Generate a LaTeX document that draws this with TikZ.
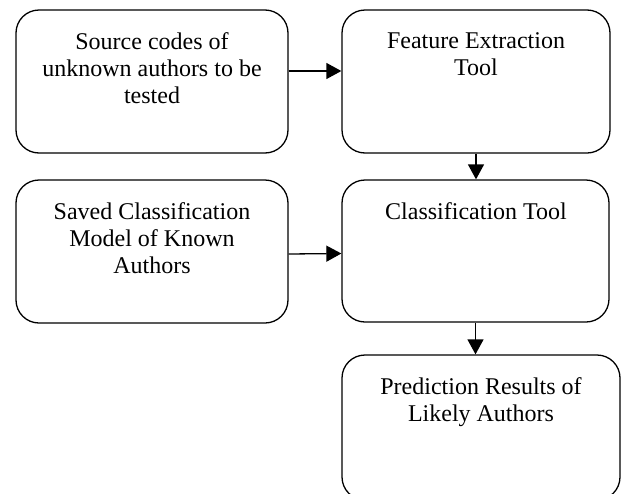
\documentclass[tikz,border=0pt]{standalone}
\usepackage{fontspec}
\setmainfont{Liberation Serif}
\usetikzlibrary{arrows.meta}
\begin{document}
\begin{tikzpicture}[x=1pt,y=-1pt,
  box/.style={draw=black, line width=1.3pt, rounded corners=23pt, inner sep=0pt, minimum width=#1},
  lbl/.style={anchor=north, inner sep=0pt, align=center, font=\fontsize{24}{27}\selectfont},
  arr/.style={line width=1.3pt, -{Triangle[length=15pt,width=16pt]}}]
\useasboundingbox (0,0) rectangle (624,493);
\node[box=272pt, minimum height=143pt] (b1) at (152,81.5) {};
\node[box=268pt, minimum height=143pt] (b2) at (476,81.5) {};
\node[box=272pt, minimum height=143pt] (b3) at (152,251.5) {};
\node[box=267pt, minimum height=142pt] (b4) at (475.5,251) {};
\node[box=278pt, minimum height=145pt] (b5) at (481,427.5) {};
\node[lbl] (t1) at (152,32.6) {Source codes of\\unknown authors to be\\tested};
\node[lbl] (t2) at (476,32.6) {Feature Extraction\\Tool};
\node[lbl] (t3) at (152,202.6) {Saved Classification\\Model of Known\\Authors};
\node[lbl] (t4) at (476,202.6) {Classification Tool};
\node[lbl] (t5) at (481,377.6) {Prediction Results of\\Likely Authors};
\draw[arr] ([yshift=10.5pt]b1.east) -- ([yshift=10.5pt]b2.west);
\draw[arr] ([yshift=-2.5pt]b3.east) -- ([yshift=-2.5pt]b4.west);
\draw[arr] (b2.south) -- (b2.south |- b4.north);
\draw[arr] (b4.south) -- (b4.south |- b5.north);
\end{tikzpicture}
\end{document}
